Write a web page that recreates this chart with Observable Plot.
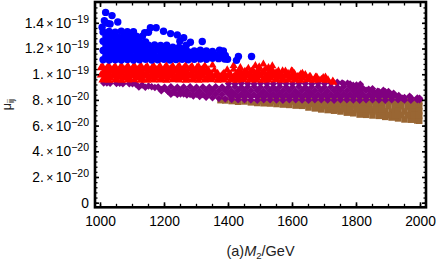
<!DOCTYPE html>
<html><head><meta charset="utf-8">
<script src="https://cdn.jsdelivr.net/npm/d3@7"></script>
<script src="https://cdn.jsdelivr.net/npm/@observablehq/plot@0.6"></script>
<style>html,body{margin:0;padding:0;background:#fff}svg{display:block}</style>
</head><body><div id="c"></div>
<script>
// y values are in units of 1e-20
const blueX=[1008,1027,1046,1065,1084,1103,1122,1141,1160,1179,1198,1217,1236,1255,1274,1293,1312,1331,1350,1369,1388,
1017,1036,1055,1074,1093,1112,1131,1150,1169,1188,1207,1226,1245,1264,1283,1302,1321,1340,1359,1378,
1008,1027,1046,1065,1084,1103,1122,1141,1160,1179,1198,1217,1236,1255,1274,1293,1312,1331,1350,
1017,1036,1055,1074,1093,1112,1131,1150,1169,1188,1207,1226,1245,1264,
1008,1027,1046,1065,1084,1103,1122,1141,
1017,1036,1055,1074,1093,1112,1131,
1008,1027,1046,1065,1084,1103,
1005,1012,1016,1036,1054,1022,1030,
1138,1156,1174,1197,1219,1240,1260,1281,1318,1150,1248,1268,
1384,1397,1431,1425,1472,1390,1372];
const blueY=[11.16,11.14,11.17,11.15,11.18,11.14,11.16,11.2,11.15,11.17,11.2,11.15,11.18,11.2,11.16,11.2,11.22,11.2,11.28,11.25,11.22,
11.52,11.5,11.54,11.52,11.55,11.5,11.53,11.56,11.5,11.52,11.55,11.5,11.54,11.52,11.5,11.55,11.52,11.5,11.52,11.5,
11.88,11.9,11.86,11.9,11.88,11.92,11.86,11.9,11.88,11.92,11.9,11.86,11.88,11.82,11.8,11.85,11.9,11.85,11.82,
12.24,12.26,12.22,12.25,12.24,12.27,12.22,12.3,12.32,12.28,12.3,12.15,12.12,12.08,
12.6,12.62,12.58,12.62,12.6,12.63,12.58,12.55,
12.96,13,12.94,12.98,12.95,13,13,
13.32,13.36,13.3,13.38,13.35,13.34,
13.7,14.2,14.85,14.6,14.1,14.0,13.95,
13.28,13.65,13.65,13.38,13.2,13.1,12.88,12.53,12.58,13.3,12.6,12.3,
11.85,11.2,11.42,11.12,11.42,11.5,11.9];

const redX=[1006,1026,1046,1066,1086,1106,1126,1146,1166,1186,1206,1226,1246,1266,1286,1306,1326,1346,1366,1386,1406,1426,1446,1466,1486,1506,1526,1546,1566,1586,1606,1626,1646,1666,1686,1706,1726,
1016,1036,1056,1076,1096,1116,1136,1156,1176,1196,1216,1236,1256,1276,1296,1316,1336,1356,1376,1396,1416,1436,1456,1476,1496,1516,1536,1556,1576,1596,1616,1636,1656,1676,1696,
1006,1026,1046,1066,1086,1106,1126,1146,1166,1186,1206,1226,1246,1266,1286,1306,1326,1346,1366,1386,1406,1426,1446,1466,1486,1506,1526,1546,1566,1586,1606,1626,1640,
1016,1036,1056,1076,1096,1116,1136,1156,1176,1196,1216,1236,1256,1276,1296,1316,1336,1356,1396,1416,1436,1456,1476,1496,1516,1536,1556,1578,1600,
1006,1026,1046,1066,1086,1106,1126,1146,1166,1186,1206,1226,1246,1266,1286,1306,1326,
1350,1416,1437,1462,1484,1509,1537,1569,1597,1631,1653,1672,1703,1728,1525,1496,
1011,1031,1051,1071,1091,1111,1131,1151,1171,1191,1211,1231,1251,1271,1291,1311,1331,1351,1371,1391,1411,1431,1451,1471,1491,1511,1531,1551,1571,1591,1611,1631,1651,1671,1691,1711,
1001,1021,1041,1061,1081,1101,1121,1141,1161,1181,1201,1221,1241,1261,1281,1301,1321,1341,1361,1381,1401,1421,1441,1461,1481,1501,1521,1541,1561,1581,1601,1621,1641,
1011,1031,1051,1071,1091,1111,1131,1151,1171,1191,1211,1231,1251,1271,1291,1311,1331,1431,1451,1471,1491,1511,1531,1551,
1001,1021,1041,1061,1081,1101,1121,1141,1161,1181,1201,1221,1241,1261,1281,1301,1321];
const redY=[9.57,9.55,9.58,9.56,9.57,9.6,9.56,9.55,9.58,9.57,9.56,9.6,9.57,9.55,9.58,9.56,9.57,9.6,9.55,9.58,9.57,9.56,9.6,9.57,9.58,9.55,9.57,9.6,9.56,9.58,9.57,9.55,9.6,9.56,9.57,9.55,9.5,
9.84,9.86,9.82,9.85,9.88,9.84,9.86,9.82,9.87,9.84,9.86,9.82,9.85,9.88,9.84,9.86,9.82,9.86,9.84,9.88,9.82,9.85,9.86,9.84,9.88,9.82,9.86,9.84,9.86,9.82,9.85,9.88,9.84,9.8,9.78,
10.11,10.13,10.09,10.12,10.1,10.14,10.09,10.11,10.13,10.1,10.12,10.11,10.14,10.09,10.13,10.1,10.12,10.09,10.11,10.13,10.05,10.1,10.13,10.09,10.11,10.14,10.09,10.12,10.05,10.1,10.08,10.05,10,
10.38,10.4,10.36,10.39,10.38,10.4,10.42,10.36,10.39,10.38,10.4,10.38,10.39,10.42,10.36,10.38,10.4,10.36,10.38,10.42,10.3,10.28,10.38,10.42,10.45,10.4,10.3,10.28,10.25,
10.66,10.68,10.64,10.68,10.66,10.68,10.7,10.64,10.68,10.66,10.7,10.66,10.68,10.7,10.64,10.66,10.68,
10.75,10.7,10.55,10.5,10.7,10.82,10.68,10.3,10.3,10.1,9.85,9.8,9.8,9.4,10.55,10.6,
9.7,9.72,9.68,9.71,9.7,9.73,9.69,9.7,9.72,9.68,9.71,9.7,9.73,9.69,9.7,9.72,9.68,9.71,9.7,9.73,9.69,9.7,9.72,9.68,9.71,9.7,9.73,9.69,9.7,9.72,9.68,9.71,9.7,9.66,9.64,9.6,
9.97,9.99,9.95,9.98,9.97,10,9.96,9.97,9.99,9.95,9.98,9.97,10,9.96,9.97,9.99,9.95,9.98,9.97,10,9.96,9.97,9.99,9.95,9.98,9.97,10,9.96,9.97,9.99,9.95,9.9,9.88,
10.25,10.27,10.23,10.26,10.25,10.28,10.24,10.25,10.27,10.23,10.26,10.25,10.28,10.24,10.25,10.27,10.23,10.2,10.25,10.27,10.23,10.26,10.22,10.15,
10.52,10.54,10.5,10.53,10.52,10.55,10.51,10.52,10.54,10.5,10.53,10.52,10.55,10.51,10.52,10.54,10.5];

const purpleX=[1010,1030,1050,1070,1090,1110,1130,1150,1170,1190,1210,1230,1250,1270,1290,1310,1330,1350,1370,1390,1410,1430,1450,1470,1490,1510,1530,1550,1570,1590,1610,1630,1650,1670,1690,1710,1730,1750,1770,1790,1810,1830,1850,1870,1890,1910,1930,1950,1970,1990,1997,
1410,1430,1450,1470,1490,1510,1530,1550,1570,1590,1610,1630,1650,1670,1690,1710,1730,1750,1770,1790,1810,1830,1850,1870,1890,1910,1930,1950,1970,1990,
1220,1240,1260,1280,1300,1320,1340,1360,1380,1400,1420,1440,1460,1480,1500,1520,1540,1560,1580,1600,1620,1640,1660,1680,1700,1720,1740,1760,1780,1800,1820,1840,1860,1880,1900,1920,1932,
1190,1210,1230,1250,1270,1290,1310,1330,1350,1370,1390,1410,1430,1450,1470,1490,1510,1530,1550,1570,1590,1610,1630,1650,1670,1690,1710,1730,1750,1770,1790,1810,1830,1850,1870,1890,
1120,1140,1160,1180,1200,1220,1240,1260,1280,1300,1320,1340,1360,1380,1400,1420,1440,1460,1480,1500,1520,1540,1560,1580,1600,1620,1640,1660,1680,1700,1720,1740,1760,1780,1800,1820,
1400,1420,1440,1460,1480,1500,1520,1540,1560,1580,1600,1620,1640,1660,1680,1700,1720,1740,1760,1780,
1740,1772,1790,1812,1838,1866,1884,1916,1944,1966,1997,1755,1800,1850,1900,1020,1060,1100];
const purpleY=[9.35,9.33,9.32,9.3,9.29,9.27,9.2,9.12,9.0,8.85,8.74,8.62,8.5,8.42,8.35,8.3,8.25,8.2,8.16,8.12,8.08,8.05,8.06,8.04,8.02,8.05,8.06,8.04,8.02,8.05,8.06,8.04,8.02,8.05,8.06,8.04,8.02,8.05,8.06,8.04,8.02,8.05,8.06,8.04,8.02,8.05,8.06,8.04,8.02,8.05,8.06,
8.27,8.25,8.28,8.26,8.27,8.25,8.28,8.26,8.27,8.25,8.28,8.26,8.27,8.25,8.28,8.26,8.27,8.25,8.28,8.26,8.27,8.25,8.28,8.26,8.27,8.25,8.28,8.22,8.2,8.18,
8.48,8.46,8.5,8.47,8.48,8.46,8.5,8.48,8.46,8.49,8.5,8.47,8.48,8.46,8.5,8.48,8.47,8.5,8.48,8.46,8.49,8.48,8.5,8.47,8.48,8.46,8.5,8.48,8.47,8.5,8.48,8.46,8.49,8.48,8.46,8.4,8.38,
8.76,8.74,8.78,8.76,8.75,8.78,8.74,8.76,8.78,8.75,8.76,8.74,8.78,8.76,8.75,8.78,8.74,8.76,8.78,8.75,8.76,8.74,8.78,8.76,8.75,8.78,8.74,8.76,8.78,8.75,8.76,8.74,8.78,8.72,8.7,8.68,
9.04,9.02,9.06,9.04,9.03,9.06,9.02,9.04,9.06,9.03,9.04,9.02,9.06,9.04,9.03,9.06,9.02,9.04,9.06,9.03,9.04,9.02,9.06,9.04,9.03,9.06,9.02,9.04,9.06,9.03,9.04,9.02,9.06,9.04,9.0,8.95,
9.32,9.3,9.33,9.31,9.3,9.33,9.31,9.3,9.33,9.31,9.3,9.33,9.31,9.3,9.33,9.31,9.35,9.36,9.3,9.28,
9.41,9.33,9.17,9.25,8.86,8.71,8.79,8.55,8.16,8.32,8.16,9.36,9.2,8.9,8.7,9.36,9.34,9.3];

const brownX=[1375,1390,1410,1430,1450,1470,1490,1510,1530,1550,1570,1590,1610,1630,1650,1670,1690,1710,1730,1750,1770,1790,1810,1830,1850,1870,1890,1910,1930,1950,1970,1990,1996,
1500,1520,1540,1560,1580,1600,1620,1640,1660,1680,1700,1720,1740,1760,1780,1800,1820,1840,1860,1880,1900,1920,1940,1960,1980,1996,
1700,1720,1740,1760,1780,1800,1820,1840,1860,1880,1900,1920,1940,1960,1980,1996,
1810,1830,1850,1870,1890,1910,1930,1950,1970,1990,1996,
1900,1920,1940,1960,1980,1996,
1620,1640,1660,1680,1700,1720,1740,1760,1780,1800,1820,1840,
1740,1760,1780,1800,1820,1840,1860,1880];
const brownY=[8.02,8.0,7.95,7.9,7.92,7.85,7.8,7.78,7.76,7.72,7.68,7.65,7.6,7.58,7.45,7.38,7.3,7.25,7.2,7.14,7.05,7.0,6.9,6.88,6.83,6.8,6.72,6.67,6.6,6.52,6.5,6.44,6.42,
7.95,7.92,7.96,7.94,7.95,7.92,7.96,7.94,7.95,7.92,7.96,7.94,7.95,7.92,7.96,7.94,7.95,7.92,7.96,7.94,7.95,7.92,7.96,7.94,7.95,7.92,
7.55,7.52,7.56,7.54,7.55,7.52,7.56,7.54,7.55,7.52,7.56,7.54,7.55,7.52,7.56,7.54,
7.15,7.12,7.16,7.14,7.15,7.12,7.16,7.14,7.15,7.12,7.16,
6.85,6.82,6.86,6.84,6.85,6.82,
7.72,7.7,7.74,7.7,7.72,7.7,7.74,7.7,7.72,7.7,7.74,7.7,
7.3,7.32,7.28,7.3,7.32,7.28,7.3,7.32];

const xTicksMajor=[1000,1200,1400,1600,1800,2000];
const xTicksMinor=[1000,1050,1100,1150,1200,1250,1300,1350,1400,1450,1500,1550,1600,1650,1700,1750,1800,1850,1900,1950,2000];
const yTicksMajor=[0,2,4,6,8,10,12,14];
const yTicksMinor=[0,0.4,0.8,1.2,1.6,2,2.4,2.8,3.2,3.6,4,4.4,4.8,5.2,5.6,6,6.4,6.8,7.2,7.6,8,8.4,8.8,9.2,9.6,10,10.4,10.8,11.2,11.6,12,12.4,12.8,13.2,13.6,14,14.4,14.8,15.2];
const yTickLabels=["0","2.|20","4.|20","6.|20","8.|20","1.|19","1.2|19","1.4|19"];
const xLabel="(a)M2/GeV", yLabel="μij";

const pts=(X,Y)=>X.map((x,i)=>({x,y:Y[i]}));
const font="'Liberation Sans',Arial,sans-serif";

const chart=Plot.plot({
  width:436,height:260,
  marginLeft:94.5,marginRight:10.5,marginTop:1.5,marginBottom:53.2,
  style:{fontFamily:font,background:"white"},
  x:{domain:[982.8,2017.2]},
  y:{domain:[-0.32,15.66]},
  marks:[
    Plot.dot(pts(brownX,brownY),{x:"x",y:"y",symbol:"square",r:3.7,fill:"#996633"}),
    Plot.dot(pts(purpleX,purpleY),{x:"x",y:"y",symbol:"diamond2",r:3.4,fill:"#800080"}),
    Plot.dot(pts(redX,redY),{x:"x",y:"y",symbol:"triangle",r:3,fill:"#ff0000"}),
    Plot.dot(pts(blueX,blueY),{x:"x",y:"y",symbol:"circle",r:3.7,fill:"#0000ff"}),
    Plot.frame({stroke:"black",strokeWidth:2.6}),
    Plot.axisX({anchor:"bottom",ticks:xTicksMinor,tickSize:-3,tickFormat:()=>"",label:null,strokeWidth:1.3,color:"black"}),
    Plot.axisX({anchor:"top",ticks:xTicksMinor,tickSize:-3,tickFormat:()=>"",label:null,strokeWidth:1.3,color:"black"}),
    Plot.axisY({anchor:"left",ticks:yTicksMinor,tickSize:-3,tickFormat:()=>"",label:null,strokeWidth:1.3,color:"black"}),
    Plot.axisY({anchor:"right",ticks:yTicksMinor,tickSize:-3,tickFormat:()=>"",label:null,strokeWidth:1.3,color:"black"}),
    Plot.axisX({anchor:"bottom",ticks:xTicksMajor,tickSize:-4.5,tickPadding:13,tickFormat:d=>String(d),label:null,fontSize:13.8,strokeWidth:1.6,color:"black"}),
    Plot.axisX({anchor:"top",ticks:xTicksMajor,tickSize:-4.5,tickFormat:()=>"",label:null,strokeWidth:1.6,color:"black"}),
    Plot.axisY({anchor:"left",ticks:yTicksMajor,tickSize:-4.5,tickPadding:10.5,tickFormat:(d,i)=>yTickLabels[yTicksMajor.indexOf(d)],label:null,fontSize:13.8,strokeWidth:1.6,color:"black"}),
    Plot.axisY({anchor:"right",ticks:yTicksMajor,tickSize:-4.5,tickFormat:()=>"",label:null,strokeWidth:1.6,color:"black"}),
    Plot.text([xLabel],{frameAnchor:"bottom",dy:48.5,fontSize:14.5,fill:"#222"}),
    Plot.text([yLabel],{frameAnchor:"left",dx:-88.5,rotate:-90,textAnchor:"middle",fontSize:12.5,fill:"#222"})
  ]
});
document.getElementById("c").append(chart);

// rich text for the tick labels and axis titles
d3.select(chart).selectAll("text").each(function(){
  const t=d3.select(this), s=t.text();
  const m=s.match(/^([\d.]+)\|(\d+)$/);
  if(m){
    t.text(null);
    t.append("tspan").text(m[1]);
    t.append("tspan").attr("font-size",12).attr("dx",2.5).text("×");
    t.append("tspan").attr("dx",2.5).text("10");
    t.append("tspan").attr("font-size",10.5).attr("dy",-5).text("−"+m[2]);
  } else if(s===xLabel){
    t.text(null);
    t.append("tspan").text("(a)");
    t.append("tspan").attr("font-style","italic").text("M");
    t.append("tspan").attr("font-size",9.5).attr("dy",3).text("2");
    t.append("tspan").attr("dy",-3).text("/GeV");
  } else if(s===yLabel){
    t.text(null);
    t.append("tspan").text("μ");
    t.append("tspan").attr("font-size",9).attr("dy",3).text("ij");
  }
});
</script></body></html>
